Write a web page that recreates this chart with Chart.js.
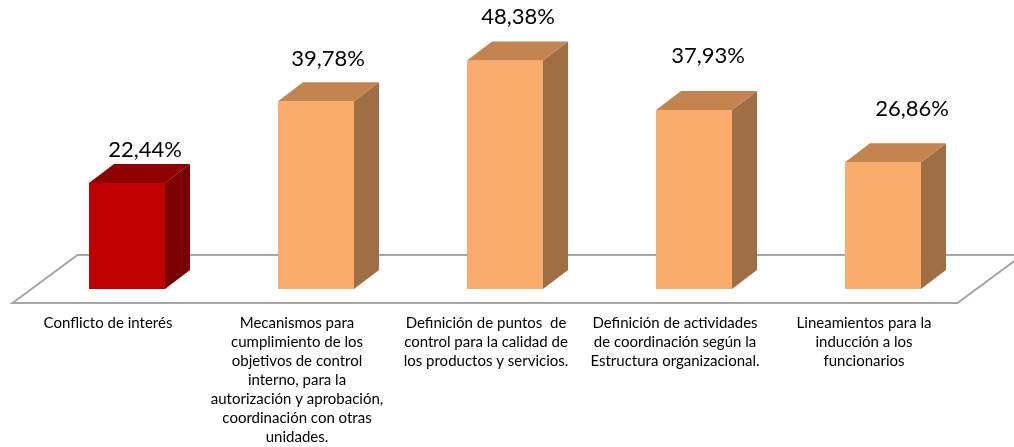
<!DOCTYPE html>
<html>
<head>
<meta charset="utf-8">
<script src="https://cdn.jsdelivr.net/npm/chart.js@4/dist/chart.umd.min.js"></script>
<style>
  html, body { margin: 0; padding: 0; background: #ffffff; }
  #wrap { width: 1014px; height: 447px; position: relative; }
</style>
</head>
<body>
<div id="wrap"><canvas id="c" width="1014" height="447"></canvas></div>
<script>
// ---- data ----
const categories = [
  ["Conflicto de interés"],
  ["Mecanismos para", "cumplimiento de los", "objetivos de control", "interno, para la", "autorización y aprobación,", "coordinación con otras", "unidades."],
  ["Definición de puntos  de", "control para la calidad de", "los productos y servicios."],
  ["Definición de actividades", "de coordinación según la", "Estructura organizacional."],
  ["Lineamientos para la", "inducción a los", "funcionarios"]
];
const values = [22.44, 39.78, 48.38, 37.93, 26.86];

// ---- styles ----
const frontColors = ["#C00000", "#F9AC6B", "#F9AC6B", "#F9AC6B", "#F9AC6B"];
const topColors   = ["#8E0000", "#C4844F", "#C4844F", "#C4844F", "#C4844F"];
const sideColors  = ["#7A0000", "#A06E44", "#A06E44", "#A06E44", "#A06E44"];
const labelOffsets = [[18, -33], [12, -42], [13, -44], [14, -54], [29, -53]];
const DEPTH_X = 25, DEPTH_Y = 19;
const FONT = "Lato, 'Open Sans', sans-serif";

const threeD = {
  id: 'threeD',
  beforeDatasetsDraw(chart) {
    const ctx = chart.ctx;
    const xs = chart.scales.x, ys = chart.scales.y;
    const y0 = ys.getPixelForValue(0);
    const fl = xs.left - 20, fr = xs.right - 20, fy = y0 + 14;
    const bx = 65, by = 48;
    ctx.save();
    ctx.beginPath();
    ctx.moveTo(fl, fy);
    ctx.lineTo(fr, fy);
    ctx.lineTo(fr + bx, fy - by);
    ctx.lineTo(fl + bx, fy - by);
    ctx.closePath();
    ctx.fillStyle = '#ffffff';
    ctx.fill();
    ctx.strokeStyle = '#a6a6a6';
    ctx.lineWidth = 2;
    ctx.stroke();
    ctx.restore();
  },
  afterDatasetsDraw(chart) {
    const ctx = chart.ctx;
    const meta = chart.getDatasetMeta(0);
    ctx.save();
    meta.data.forEach((bar, i) => {
      const p = bar.getProps(['x', 'y', 'base', 'width'], true);
      const l = p.x - p.width / 2, r = p.x + p.width / 2;
      // side face
      ctx.beginPath();
      ctx.moveTo(r, p.y);
      ctx.lineTo(r + DEPTH_X, p.y - DEPTH_Y);
      ctx.lineTo(r + DEPTH_X, p.base - DEPTH_Y);
      ctx.lineTo(r, p.base);
      ctx.closePath();
      ctx.fillStyle = sideColors[i];
      ctx.fill();
      // top face
      ctx.beginPath();
      ctx.moveTo(l, p.y);
      ctx.lineTo(r, p.y);
      ctx.lineTo(r + DEPTH_X, p.y - DEPTH_Y);
      ctx.lineTo(l + DEPTH_X, p.y - DEPTH_Y);
      ctx.closePath();
      ctx.fillStyle = topColors[i];
      ctx.fill();
      // value label
      const txt = values[i].toFixed(2).replace('.', ',') + '%';
      ctx.font = '22px ' + FONT;
      ctx.fillStyle = '#000000';
      ctx.textAlign = 'center';
      ctx.textBaseline = 'middle';
      ctx.fillText(txt, p.x + labelOffsets[i][0], p.y + labelOffsets[i][1]);
    });
    ctx.restore();
  }
};

new Chart(document.getElementById('c'), {
  type: 'bar',
  data: {
    labels: categories,
    datasets: [{
      data: values,
      backgroundColor: frontColors,
      borderWidth: 0,
      categoryPercentage: 1.0,
      barPercentage: 0.402
    }]
  },
  options: {
    responsive: false,
    animation: false,
    devicePixelRatio: 1,
    layout: { padding: { left: 32.5, right: 36.5, top: 0, bottom: 0 } },
    plugins: { legend: { display: false }, tooltip: { enabled: false } },
    scales: {
      x: {
        grid: { display: false, drawTicks: false },
        border: { display: false },
        afterFit: s => { s.height = 158; },
        ticks: {
          autoSkip: false,
          maxRotation: 0,
          minRotation: 0,
          padding: 24.5,
          labelOffset: -19,
          color: '#000000',
          font: { family: FONT, size: 15, lineHeight: 19 / 15 }
        }
      },
      y: {
        display: false,
        min: 0,
        max: 61.2
      }
    }
  },
  plugins: [threeD]
});
</script>
</body>
</html>
